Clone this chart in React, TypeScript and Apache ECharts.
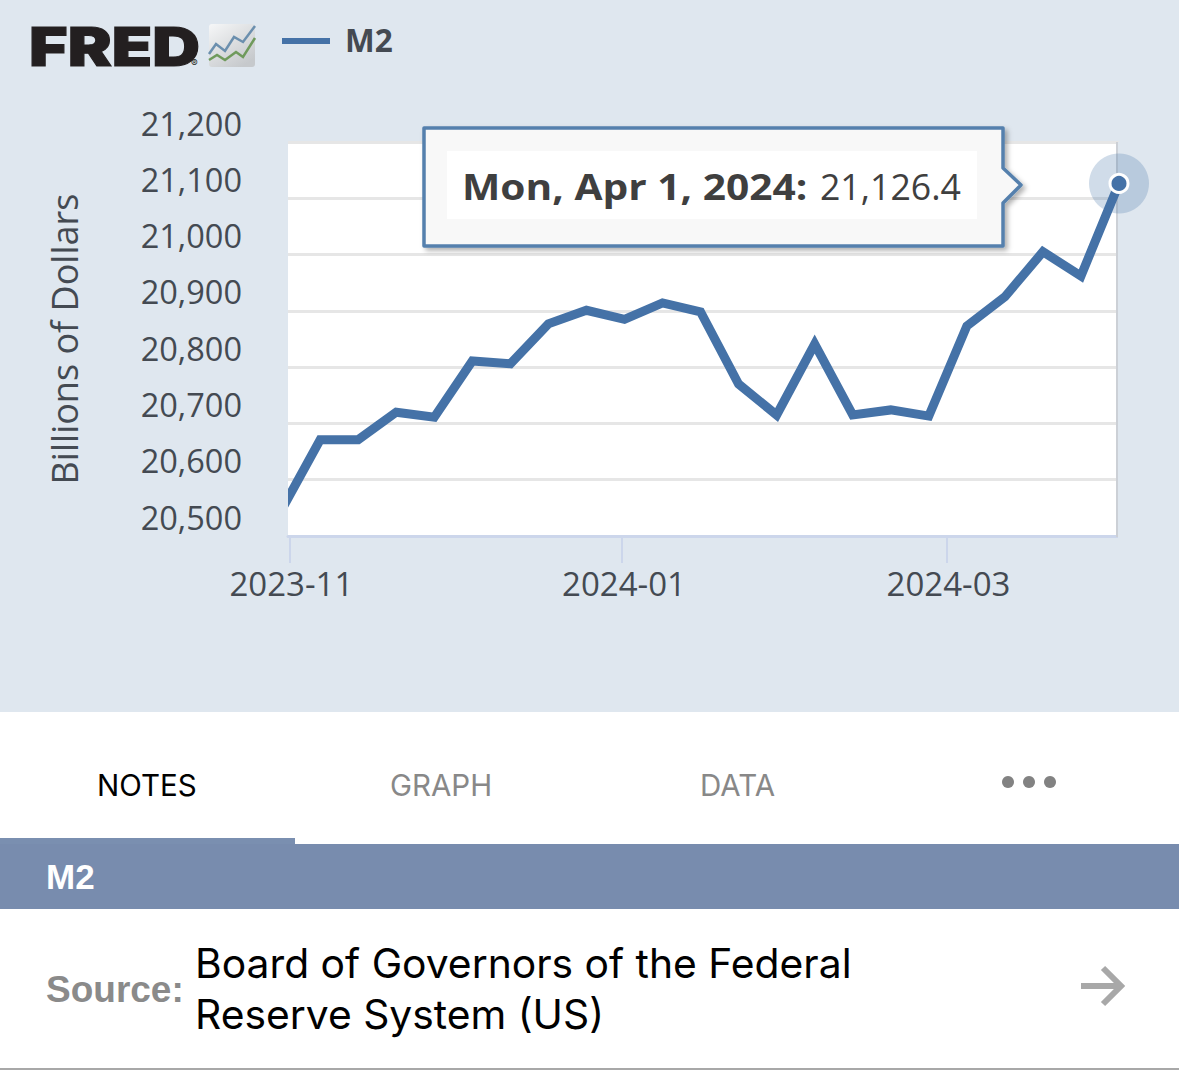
import React, { useEffect, useRef } from "react";
import * as echarts from "echarts";

const dates = ["2023-10-30","2023-11-06","2023-11-13","2023-11-20","2023-11-27","2023-12-04","2023-12-11","2023-12-18","2023-12-25","2024-01-01","2024-01-08","2024-01-15","2024-01-22","2024-01-29","2024-02-05","2024-02-12","2024-02-19","2024-02-26","2024-03-04","2024-03-11","2024-03-18","2024-03-25","2024-04-01"];
const m2 = [20548,20671,20671,20720,20711,20811,20806,20877,20901,20885,20914,20898,20770,20715,20841,20715,20724,20713,20873,20925,21005,20962,21126.4];
const xAxisStart = "2023-10-31T02:00:00Z";
const xTickDates = ["2023-10-31T08:00:00Z","2023-12-31T13:00:00Z","2024-02-29T06:00:00Z"];
const xTickLabels = ["2023-11","2024-01","2024-03"];
const seriesName = "M2";
const yAxisName = "Billions of Dollars";
const tooltipDate = "Mon, Apr 1, 2024:";
const tooltipValue = "21,126.4";
const tabs = ["NOTES","GRAPH","DATA"];
const sourceLines = ["Board of Governors of the Federal","Reserve System (US)"];

const ts = (d: string) => new Date(d.length === 10 ? d + "T00:00:00Z" : d).getTime();
const BG = "#dfe7ef";
const LINE = "#4572a7";
const TXT = "#444a52";
const OS = '"Open Sans"';

export default function App() {
  const ref = useRef<HTMLDivElement>(null);
  useEffect(() => {
    document.body.style.margin = "0";
    const chart = echarts.init(ref.current!, null, { renderer: "svg" });
    const tickVals = xTickDates.map(ts);
    const points = dates.map((d, i) => {
      const isLast = i === dates.length - 1;
      return {
        value: [ts(d), m2[i]],
        symbol: isLast ? "circle" : "none",
        symbolSize: 18,
        itemStyle: { color: LINE, borderColor: "#fff", borderWidth: 3 },
      };
    });
    const t = (x: number, y: number, text: string, fontSize: number, fill: string, extra: any = {}) => ({
      type: "text", x, y, silent: true, z: 20,
      style: { text, fontSize, fill, fontFamily: "Inter", verticalAlign: "middle", ...extra.style },
      ...(extra.el || {}),
    });
    chart.setOption({
      animation: false,
      backgroundColor: "#ffffff",
      legend: {
        data: [seriesName], left: 277, top: 18, icon: "rect", itemWidth: 48, itemHeight: 6,
        formatter: (n: string) => `{a|${n}}`,
        textStyle: { rich: { a: { fontFamily: OS, fontSize: 31.5, fontWeight: "bold", color: TXT, padding: [0, 0, 4, 10] } } },
        selectedMode: false,
      },
      grid: { left: 288, top: 142, width: 831, height: 394, show: false },
      xAxis: {
        type: "value",
        min: ts(xAxisStart),
        max: ts(dates[dates.length - 1]),
        axisLine: { show: true, lineStyle: { color: "#ccd6eb", width: 3 } },
        axisTick: { show: true, length: 27, customValues: tickVals, lineStyle: { color: "#ccd6eb", width: 2 } },
        axisLabel: {
          customValues: tickVals, margin: 31, fontFamily: OS, fontSize: 33, color: TXT,
          showMinLabel: true, showMaxLabel: true, hideOverlap: false, padding: [0, 0, 0, 4],
          formatter: (v: number) => xTickLabels[tickVals.indexOf(v)] ?? "",
        },
        splitLine: { show: false },
      },
      yAxis: {
        type: "value", min: 20500, max: 21200, interval: 100,
        name: yAxisName, nameLocation: "middle", nameGap: 206, nameRotate: 90,
        nameTextStyle: { fontFamily: OS, fontSize: 36, color: TXT },
        axisLine: { show: false }, axisTick: { show: false },
        axisLabel: {
          margin: 46, fontFamily: OS, fontSize: 32.5, color: TXT, verticalAlign: "bottom", lineHeight: 38,
          formatter: (v: number) => v.toLocaleString("en-US"),
        },
        splitLine: { lineStyle: { color: "#e6e6e6", width: 3 } },
      },
      series: [
        {
          name: "halo", type: "scatter", data: [[ts(dates[dates.length - 1]), m2[m2.length - 1]]],
          symbolSize: 60, clip: false, z: 3, silent: true,
          itemStyle: { color: LINE, opacity: 0.25 },
        },
        {
          name: seriesName, type: "line", data: points, showSymbol: true, showAllSymbols: true, z: 4,
          lineStyle: { color: LINE, width: 9, join: "miter", cap: "butt" }, itemStyle: { color: LINE }, silent: true,
        },
      ],
      graphic: { elements: [
        { type: "rect", silent: true, z: -10, shape: { x: 0, y: 0, width: 1179, height: 712 }, style: { fill: BG } },
        { type: "rect", silent: true, z: -9, shape: { x: 288, y: 142, width: 829, height: 394 }, style: { fill: "#fff" } },
        // masks for the line's start and the grid's right end
        { type: "rect", silent: true, z: 10, shape: { x: 270, y: 440, width: 18, height: 90 }, style: { fill: BG } },
        { type: "rect", silent: true, z: 1, shape: { x: 1118, y: 142, width: 3, height: 397 }, style: { fill: BG } },
        { type: "line", silent: true, z: 1, shape: { x1: 1117, y1: 142, x2: 1117, y2: 537 }, style: { stroke: "#ccd0d6", lineWidth: 2 } },

        // logo
        { type: "text", x: 29, y: 47, silent: true, z: 20, scaleX: 1.225, style: { text: "FRED", fontFamily: "Inter", fontWeight: 900, fontSize: 54, fill: "#231f20", stroke: "#231f20", lineWidth: 1, verticalAlign: "middle" } },
        t(191, 63, "®", 10, "#231f20"),
        { type: "rect", silent: true, z: 20, shape: { x: 209, y: 24, width: 46, height: 43, r: 3 }, style: { fill: { type: "linear", x: 0, y: 0, x2: 0.7, y2: 1, colorStops: [{ offset: 0, color: "#f6f7f8" }, { offset: 1, color: "#c6c9cc" }] } } },
        { type: "polyline", silent: true, z: 21, shape: { points: [[209,54],[216,44],[225,51],[234,37],[243,42],[255,26]] }, style: { fill: "none", stroke: "#6b8fae", lineWidth: 2.5 } },
        { type: "polyline", silent: true, z: 21, shape: { points: [[209,60],[217,55],[225,60],[236,52],[243,57],[255,38]] }, style: { fill: "none", stroke: "#6f9a5c", lineWidth: 2.5 } },

        // tooltip callout
        { type: "polygon", silent: true, z: 11, shape: { points: [[424,128],[1003,128],[1003,168],[1021,185],[1003,203],[1003,246],[424,246]] },
          style: { fill: "#f8f8f8", stroke: "#5580ad", lineWidth: 3.5, lineJoin: "round", shadowColor: "rgba(0,0,0,0.3)", shadowBlur: 5, shadowOffsetX: 3, shadowOffsetY: 3 } },
        { type: "rect", silent: true, z: 12, shape: { x: 447, y: 151, width: 530, height: 68 }, style: { fill: "#fff" } },
        { type: "text", silent: true, z: 13, x: 462, y: 186.5, scaleX: 1.162, style: { text: tooltipDate, fontFamily: OS, fontWeight: "bold", fontSize: 35, fill: "#3f3f3f", verticalAlign: "middle" } },
        { type: "text", silent: true, z: 13, x: 961, y: 185.5, style: { text: tooltipValue, fontFamily: OS, fontSize: 35.7, fill: "#3f3f3f", align: "right", verticalAlign: "middle" } },

        // tabs
        t(97, 785, tabs[0], 29.5, "#000"),
        t(390, 785, tabs[1], 29.5, "#888"),
        t(700, 785, tabs[2], 29.5, "#888"),
        { type: "circle", silent: true, z: 20, shape: { cx: 1008, cy: 782, r: 6 }, style: { fill: "#828282" } },
        { type: "circle", silent: true, z: 20, shape: { cx: 1029, cy: 782, r: 6 }, style: { fill: "#828282" } },
        { type: "circle", silent: true, z: 20, shape: { cx: 1050, cy: 782, r: 6 }, style: { fill: "#828282" } },

        // header band
        { type: "rect", silent: true, z: 20, shape: { x: 0, y: 838, width: 295, height: 8 }, style: { fill: "#7a8fb0" } },
        { type: "rect", silent: true, z: 20, shape: { x: 0, y: 844, width: 1179, height: 65 }, style: { fill: "#788cae" } },
        t(46, 876, seriesName, 35, "#fff", { style: { fontFamily: "Liberation Sans", fontWeight: "bold" } }),

        // source
        t(46, 989, "Source:", 37, "#8a8a8a", { style: { fontFamily: "Liberation Sans", fontWeight: "bold" } }),
        t(195, 963, sourceLines[0], 40.8, "#000"),
        t(195, 1014, sourceLines[1], 40.8, "#000"),
        { type: "polyline", silent: true, z: 20, shape: { points: [[1081,986],[1120,986]] }, style: { fill: "none", stroke: "#a8a8a8", lineWidth: 6 } },
        { type: "polyline", silent: true, z: 20, shape: { points: [[1103,968],[1121,986],[1103,1004]] }, style: { fill: "none", stroke: "#a8a8a8", lineWidth: 6 } },
        { type: "rect", silent: true, z: 20, shape: { x: 0, y: 1068, width: 1179, height: 2 }, style: { fill: "#a8a8a8" } },
      ] },
    });
    return () => chart.dispose();
  }, []);
  return <div ref={ref} style={{ position: "absolute", left: 0, top: 0, width: 1179, height: 1071 }} />;
}
